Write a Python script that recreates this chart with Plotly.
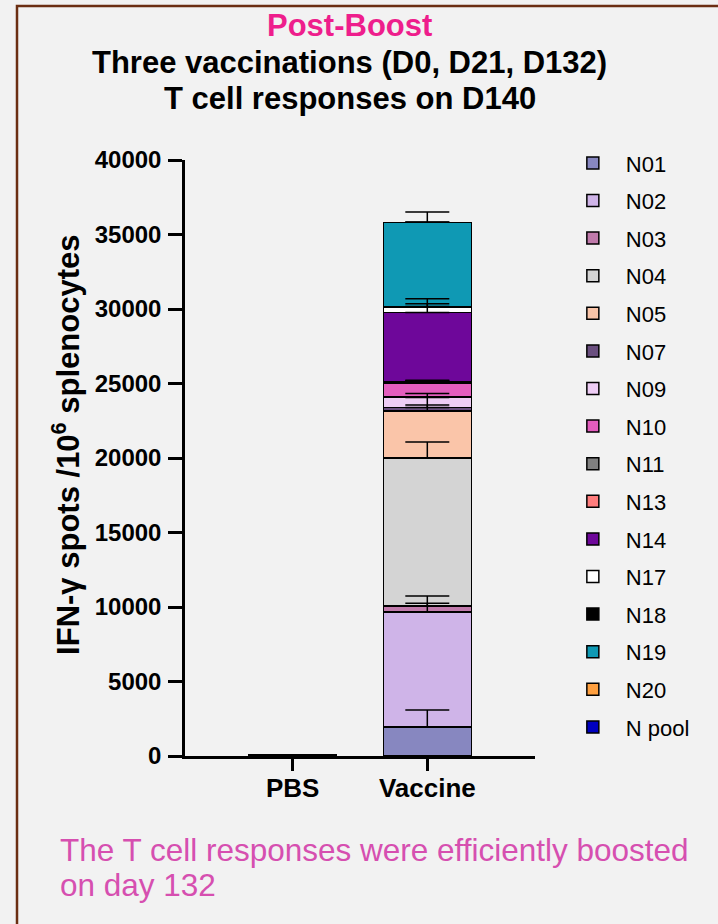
import numpy as np
import plotly.graph_objects as go

groups = ["PBS", "Vaccine"]
peptides = ["N01", "N02", "N03", "N04", "N05", "N07", "N09", "N10",
            "N11", "N13", "N14", "N17", "N18", "N19", "N20", "N pool"]
colors = ["#8787C0", "#CFB4E8", "#C07AAB", "#D4D4D4", "#FAC5A9", "#6A4F7F",
          "#EECDF5", "#E35DBE", "#808080", "#FF7D7D", "#6E079A", "#FFFFFF",
          "#000000", "#0F99B4", "#FFA040", "#0000C0"]

pbs_mean = [8, 6, 4, 6, 4, 2, 2, 2, 2, 2, 4, 2, 2, 4, 2, 4]
pbs_err = [10, 8, 5, 8, 5, 3, 3, 3, 3, 3, 5, 3, 3, 5, 3, 5]
vac_mean = [1950, 7710, 420, 9930, 3150, 230, 710, 940,
            60, 40, 4620, 380, 30, 5650, 0, 0]
vac_err = [1140, 600, 650, 1070, 400, 670, 230, 180,
           50, 50, 600, 540, 0, 690, 0, 0]

y_ticks = [0, 5000, 10000, 15000, 20000, 25000, 30000, 35000, 40000]

FONT = "Arial, Liberation Sans, sans-serif"
BG = "#F2F2F2"

fig = go.Figure()
for i, name in enumerate(peptides):
    fig.add_trace(go.Bar(
        x=groups, y=[pbs_mean[i], vac_mean[i]], name=name,
        legendgroup=name,
        marker=dict(color=colors[i], line=dict(color="black", width=1.5)),
        width=0.654,
    ))

# error bars drawn on top of the stack (upward only)
pbs_tops = np.cumsum(pbs_mean)
vac_tops = np.cumsum(vac_mean)
fig.add_trace(go.Scatter(
    x=[groups[0]] * len(peptides) + [groups[1]] * len(peptides),
    y=list(pbs_tops) + list(vac_tops),
    mode="markers", marker=dict(size=0.1, color="rgba(0,0,0,0)"),
    error_y=dict(type="data", symmetric=False,
                 array=pbs_err + vac_err,
                 arrayminus=[0] * (2 * len(peptides)),
                 color="black", thickness=1.5, width=22),
    showlegend=False, hoverinfo="skip",
))

fig.update_layout(
    width=718, height=924,
    barmode="stack",
    paper_bgcolor=BG, plot_bgcolor=BG,
    margin=dict(l=185, r=183, t=160, b=168),
    font=dict(family=FONT, color="black"),
    showlegend=True,
    legend=dict(x=1.071, y=1.03, xanchor="left", yanchor="top",
                traceorder="grouped", tracegroupgap=6,
                itemwidth=56, font=dict(size=22, family=FONT),
                maxheight=800,
                bgcolor="rgba(0,0,0,0)"),
    xaxis=dict(type="category", range=[-0.8, 1.8],
               showline=True, linecolor="black", linewidth=2.5,
               ticks="outside", ticklen=12, tickwidth=2.5, tickcolor="black",
               ticklabelstandoff=-5,
               tickfont=dict(size=26, family=FONT, weight="bold"),
               showgrid=False, zeroline=False),
    yaxis=dict(range=[0, 40000], tickvals=y_ticks,
               ticktext=[str(v) for v in y_ticks],
               showline=True, linecolor="black", linewidth=2.5,
               ticks="outside", ticklen=14, tickwidth=2.5, tickcolor="black",
               ticklabelstandoff=2,
               tickfont=dict(size=24, family=FONT, weight="bold"),
               showgrid=False, zeroline=False),
)

annos = [
    dict(text="<b>Post-Boost</b>", x=0.4714, y=1.2265, size=31, color="#EE1E8C"),
    dict(text="<b>Three vaccinations (D0, D21, D132)</b>", x=0.4714, y=1.1628, size=31, color="black"),
    dict(text="<b>T cell responses on D140</b>", x=0.4714, y=1.104, size=31, color="black"),
]
for a in annos:
    fig.add_annotation(text=a["text"], x=a["x"], y=a["y"], xref="paper", yref="paper",
                       xanchor="center", yanchor="middle", showarrow=False,
                       font=dict(size=a["size"], color=a["color"], family=FONT))

fig.add_annotation(text="<b>IFN-γ spots /10<sup>6</sup> splenocytes</b>",
                   x=-0.34, y=0.522, xref="paper", yref="paper",
                   textangle=-90, xanchor="center", yanchor="middle",
                   showarrow=False, font=dict(size=31, family=FONT, color="black"))

for txt, yy in [("The T cell responses were efficiently boosted", -0.1577),
                ("on day 132", -0.2164)]:
    fig.add_annotation(text=txt, x=-0.363, y=yy, xref="paper", yref="paper",
                       xanchor="left", yanchor="middle", showarrow=False,
                       font=dict(size=31.5, family=FONT, color="#D64FB0"))

# panel border
fig.add_shape(type="rect", xref="paper", yref="paper",
              x0=-0.48, x1=1.6, y0=-0.5, y1=1.2584,
              line=dict(color="#6B2E12", width=2.5), fillcolor="rgba(0,0,0,0)",
              layer="below")

fig.write_html(
    "out.html",
    config={"displayModeBar": False},
    post_script="document.body.style.margin='0';document.body.style.background='" + BG + "';",
)
